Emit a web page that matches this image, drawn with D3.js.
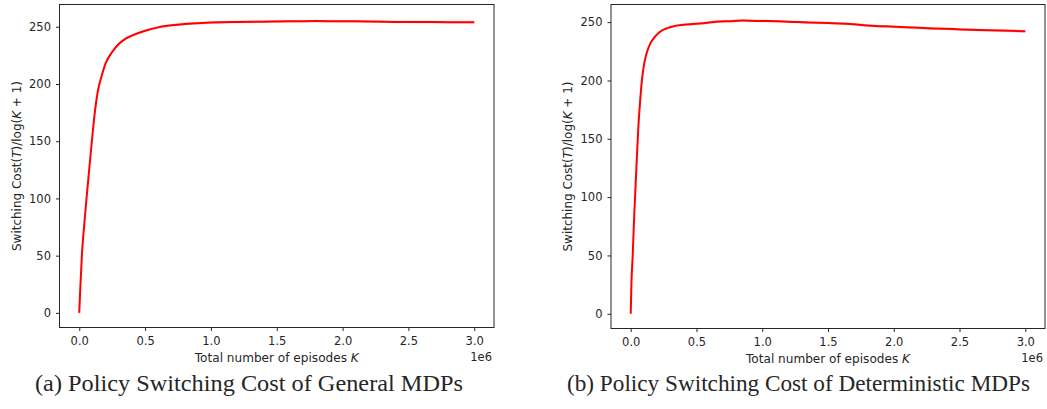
<!DOCTYPE html>
<html>
<head>
<meta charset="utf-8">
<script src="https://cdn.jsdelivr.net/npm/d3@7"></script>
<style>
  body { margin: 0; background: #fff; }
  svg text { fill: #262626; }
</style>
</head>
<body>
<div id="chart"></div>
<script>
// Episodes (in millions) and switching cost / log(K+1)
const generalK = [0, 0.008, 0.02, 0.04, 0.06, 0.08, 0.1, 0.12, 0.14, 0.17, 0.2, 0.25, 0.3, 0.35, 0.4,
    0.5, 0.6, 0.7, 0.8, 0.9, 1.0, 1.2, 1.4, 1.6, 1.8, 2.0, 2.2, 2.4, 2.6, 2.8, 3.0];
const generalCost = [0, 22, 50, 80, 106, 131, 155, 177, 193, 207, 218, 228, 235, 239.5, 242.3,
    246.5, 249.5, 251.3, 252.5, 253.2, 253.7, 254.2, 254.5, 254.8, 255.0, 254.8, 254.7, 254.3, 254.2, 254.0, 254.0];

const detK = [0, 0.005, 0.015, 0.025, 0.033, 0.045, 0.058, 0.07, 0.085, 0.1, 0.12, 0.15, 0.185, 0.22,
    0.27, 0.3, 0.36, 0.45, 0.55, 0.65, 0.75, 0.85, 0.95, 1.05, 1.2, 1.35, 1.5, 1.67, 1.8, 1.97,
    2.15, 2.3, 2.45, 2.65, 2.8, 3.0];
const detCost = [0, 25, 50, 80, 100, 130, 160, 180, 200, 213, 223, 232, 237.5, 241.5,
    244.5, 245.6, 247.2, 248.2, 249, 250.3, 250.8, 251.3, 251, 250.9, 250.4, 249.6, 249.2, 248.3, 247.2, 246.2,
    245.3, 244.6, 244.0, 243.2, 242.8, 242.1];

const xTicks = [0, 0.5, 1.0, 1.5, 2.0, 2.5, 3.0];
const yTicks = [0, 50, 100, 150, 200, 250];
const captions = ["(a) Policy Switching Cost of General MDPs", "(b) Policy Switching Cost of Deterministic MDPs"];

const width = 1047, height = 409;
const svg = d3.select("#chart").append("svg")
    .attr("width", width)
    .attr("height", height);

function drawPanel(k, cost, box, yDomain, caption) {
    const x = d3.scaleLinear().domain([-0.15, 3.15]).range([box.left, box.right]);
    const y = d3.scaleLinear().domain(yDomain).range([box.bottom, box.top]);
    const g = svg.append("g");

    const pts = k.map((v, i) => [v, cost[i]]);

    // faint std band
    g.append("path")
        .datum(pts)
        .attr("fill", "#ff0000")
        .attr("fill-opacity", 0.18)
        .attr("d", d3.area()
            .x(d => x(d[0]))
            .y0(d => y(d[1] - 1.2))
            .y1(d => y(d[1] + 1.2))
            .curve(d3.curveMonotoneX));

    g.append("path")
        .datum(pts)
        .attr("fill", "none")
        .attr("stroke", "#ff0000")
        .attr("stroke-width", 2)
        .attr("d", d3.line()
            .x(d => x(d[0]))
            .y(d => y(d[1]))
            .curve(d3.curveMonotoneX));

    const xAxis = g.append("g")
        .attr("transform", `translate(0,${box.bottom})`)
        .call(d3.axisBottom(x).tickValues(xTicks).tickFormat(d3.format(".1f")).tickSizeOuter(0).tickSize(3.5).tickPadding(6));
    const yAxis = g.append("g")
        .attr("transform", `translate(${box.left},0)`)
        .call(d3.axisLeft(y).tickValues(yTicks).tickSizeOuter(0).tickSize(3.5).tickPadding(5));
    [xAxis, yAxis].forEach(a => {
        a.select(".domain").remove();
        a.selectAll("line").attr("stroke", "#262626");
        a.selectAll("text")
            .attr("font-family", "DejaVu Sans")
            .attr("font-size", 11.5)
            .attr("fill", "#262626");
    });

    // frame
    g.append("rect")
        .attr("x", box.left)
        .attr("y", box.top)
        .attr("width", box.right - box.left)
        .attr("height", box.bottom - box.top)
        .attr("fill", "none")
        .attr("stroke", "#262626")
        .attr("stroke-width", 1);

    const xl = g.append("text")
        .attr("x", (box.left + box.right) / 2)
        .attr("y", box.bottom + 34)
        .attr("text-anchor", "middle")
        .attr("font-family", "DejaVu Sans")
        .attr("font-size", 11.5)
        .attr("textLength", 164)
        .attr("lengthAdjust", "spacingAndGlyphs");
    xl.append("tspan").text("Total number of episodes ");
    xl.append("tspan").attr("font-style", "italic").text("K");

    g.append("text")
        .attr("x", box.right - 2)
        .attr("y", box.bottom + 33.5)
        .attr("text-anchor", "end")
        .attr("font-family", "DejaVu Sans")
        .attr("font-size", 11.5)
        .text("1e6");

    const yl = g.append("text")
        .attr("transform", `translate(${box.left - 39},${(box.top + box.bottom) / 2}) rotate(-90)`)
        .attr("text-anchor", "middle")
        .attr("font-family", "DejaVu Sans")
        .attr("font-size", 11.5)
        .attr("textLength", 170)
        .attr("lengthAdjust", "spacingAndGlyphs");
    yl.append("tspan").text("Switching Cost(");
    yl.append("tspan").attr("font-style", "italic").text("T");
    yl.append("tspan").text(")/log(");
    yl.append("tspan").attr("font-style", "italic").text("K");
    yl.append("tspan").text(" + 1)");

    g.append("text")
        .attr("x", box.captionX)
        .attr("y", 390.5)
        .attr("text-anchor", "middle")
        .attr("font-family", "Liberation Serif")
        .attr("font-size", 22.5)
        .attr("fill", "#000")
        .attr("textLength", box.captionW)
        .attr("lengthAdjust", "spacingAndGlyphs")
        .text(caption);
}

drawPanel(generalK, generalCost, {left: 59.5, right: 494, top: 4.5, bottom: 327.5, captionX: 249, captionW: 428}, [-12.8, 269.5], captions[0]);
drawPanel(detK, detCost, {left: 611, right: 1045, top: 4.5, bottom: 328.5, captionX: 798.5, captionW: 463}, [-12.6, 265.1], captions[1]);
</script>
</body>
</html>
